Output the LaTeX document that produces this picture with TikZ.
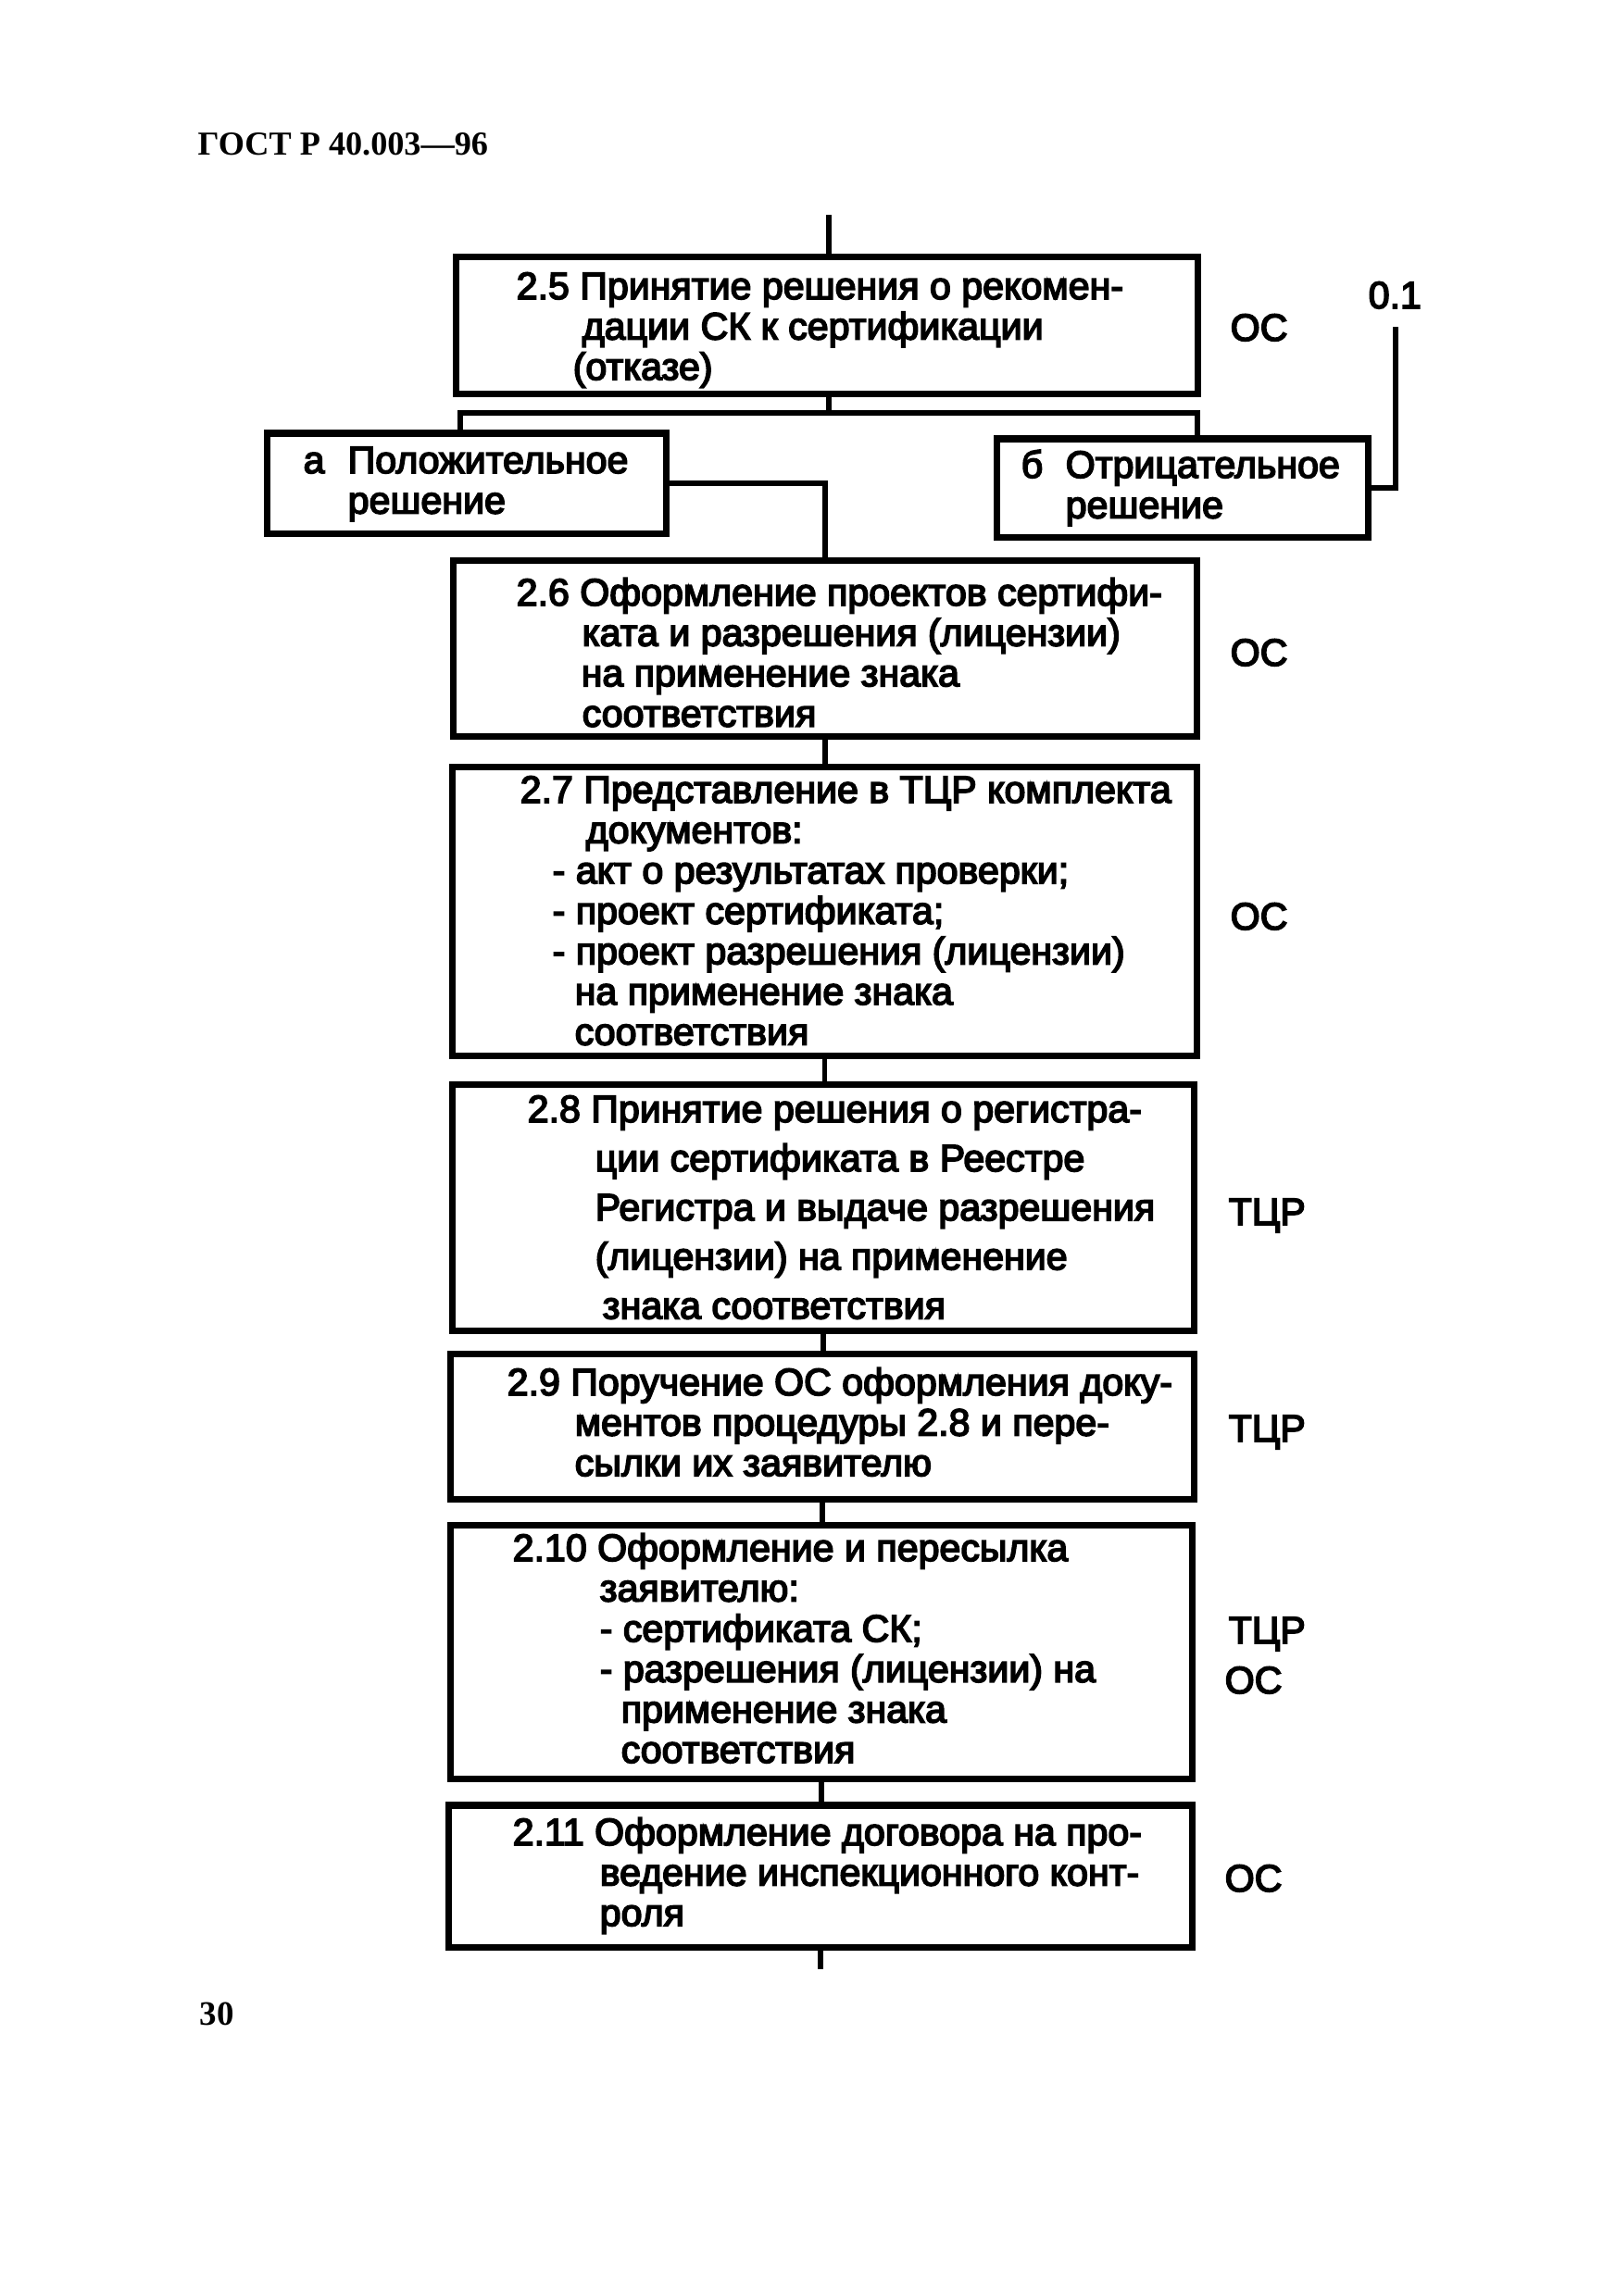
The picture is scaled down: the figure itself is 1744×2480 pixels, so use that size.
\documentclass[tikz,border=0pt]{standalone}
\usepackage{fontspec}
\setmainfont{Liberation Sans}[BoldFont=Liberation Sans, BoldFeatures={FakeBold=4}]
\newfontfamily\hdrfont{Liberation Serif}
\usetikzlibrary{calc}
\tikzset{
  box/.style={draw, line width=2pt, inner sep=0pt, rectangle},
  conn/.style={line width=1.7pt},
  txt/.style={inner sep=0pt, anchor=base west, font=\bfseries\fontsize{11.7pt}{12.4pt}\selectfont},
  lab/.style={inner sep=0pt, anchor=base west, font=\bfseries\fontsize{11.7pt}{12.4pt}\selectfont},
}
\newcommand{\ind}[1]{\hspace*{#1cm}}
\begin{document}
\begin{tikzpicture}[x=0.01cm, y=-0.01cm]
\useasboundingbox[fill=white] (0,0) rectangle (1744,2480);
% header and page number
\node[inner sep=0pt, anchor=base west, font=\hdrfont\bfseries\fontsize{10.3pt}{12pt}\selectfont] (hdr) at (213,167) {ГОСТ Р 40.003—96};
\node[inner sep=0pt, anchor=base west, font=\hdrfont\bfseries\fontsize{10.5pt}{12pt}\selectfont] (pnum) at (215,2187) {30};

% boxes
\node[box, minimum width=8.00cm, minimum height=1.47cm] (b25) at (893,351.5) {};
\node[box, minimum width=4.30cm, minimum height=1.08cm] (ba) at (504,522) {};
\node[box, minimum width=4.00cm, minimum height=1.06cm] (bb) at (1277,527) {};
\node[box, minimum width=8.02cm, minimum height=1.89cm] (b26) at (891,700.5) {};
\node[box, minimum width=8.03cm, minimum height=3.11cm] (b27) at (890.5,984.5) {};
\node[box, minimum width=8.00cm, minimum height=2.65cm] (b28) at (889,1304.5) {};
\node[box, minimum width=8.02cm, minimum height=1.56cm] (b29) at (888,1541) {};
\node[box, minimum width=8.00cm, minimum height=2.73cm] (b210) at (887,1784.5) {};
\node[box, minimum width=8.02cm, minimum height=1.53cm] (b211) at (886,2026.5) {};

% box texts
\node[txt] (t25) at (557,323) {\parbox[t]{7.4cm}{2.5 Принятие решения о рекомен-\\\ind{0.71}дации СК к сертификации\\\ind{0.61}(отказе)}};
\node[txt] (ta) at (327,511) {\parbox[t]{4cm}{\makebox[0.48cm][l]{а}Положительное\\\ind{0.48}решение}};
\node[txt] (tb) at (1102,516) {\parbox[t]{3.8cm}{\makebox[0.48cm][l]{б}Отрицательное\\\ind{0.48}решение}};
\node[txt] (t26) at (557,654) {\parbox[t]{7.4cm}{2.6 Оформление проектов сертифи-\\\ind{0.71}ката и разрешения (лицензии)\\\ind{0.70}на применение знака\\\ind{0.71}соответствия}};
\node[txt] (t27) at (561,867) {\parbox[t]{7.4cm}{2.7 Представление в ТЦР комплекта\\\ind{0.71}документов:\\\ind{0.35}- акт о результатах проверки;\\\ind{0.35}- проект сертификата;\\\ind{0.35}- проект разрешения (лицензии)\\\ind{0.59}на применение знака\\\ind{0.59}соответствия}};
\node[txt, font=\bfseries\fontsize{11.7pt}{15.1pt}\selectfont] (t28) at (569,1212) {\parbox[t]{7.4cm}{2.8 Принятие решения о регистра-\\\ind{0.73}ции сертификата в Реестре\\\ind{0.73}Регистра и выдаче разрешения\\\ind{0.73}(лицензии) на применение\\\ind{0.81}знака соответствия}};
\node[txt] (t29) at (547,1507) {\parbox[t]{7.6cm}{2.9 Поручение ОС оформления доку-\\\ind{0.73}ментов процедуры 2.8 и пере-\\\ind{0.73}сылки их заявителю}};
\node[txt] (t210) at (553,1686) {\parbox[t]{7.4cm}{2.10 Оформление и пересылка\\\ind{0.94}заявителю:\\\ind{0.94}- сертификата СК;\\\ind{0.94}- разрешения (лицензии) на\\\ind{1.17}применение знака\\\ind{1.17}соответствия}};
\node[txt] (t211) at (553,1993) {\parbox[t]{7.4cm}{2.11 Оформление договора на про-\\\ind{0.94}ведение инспекционного конт-\\\ind{0.94}роля}};

% side labels
\node[lab] (l25) at (1328,368) {ОС};
\node[lab] (l01) at (1477,333) {0.1};
\node[lab] (l26) at (1328,719) {ОС};
\node[lab] (l27) at (1328,1004) {ОС};
\node[lab] (l28) at (1326,1323) {ТЦР};
\node[lab] (l29) at (1326,1557) {ТЦР};
\node[lab] (l210a) at (1326,1775) {ТЦР};
\node[lab] (l210b) at (1322,1829) {ОС};
\node[lab] (l211) at (1322,2043) {ОС};

% connectors
\coordinate (top) at (895,232);
\draw[conn] (top) -- (top |- b25.north);
\coordinate (br) at (895,446);
\coordinate (brL) at (497,446);
\coordinate (brR) at (1293,446);
\draw[conn] (br |- b25.south) -- (br);
\draw[conn] (brL |- ba.north) -- (brL) -- (brR) -- (brR |- bb.north);
\draw[conn] (ba.east) -- (ba.east -| b26.north) -- (b26.north);
\coordinate (c01) at (1507,353);
\draw[conn] (c01) -- (c01 |- bb.east) -- (bb.east);
\draw[conn] (b26.south) -- (b26.south |- b27.north);
\draw[conn] (b27.south) -- (b27.south |- b28.north);
\draw[conn] (b28.south) -- (b28.south |- b29.north);
\draw[conn] (b29.south) -- (b29.south |- b210.north);
\draw[conn] (b210.south) -- (b210.south |- b211.north);
\coordinate (bot) at (886,2127);
\draw[conn] (b211.south) -- (bot);
\end{tikzpicture}
\end{document}
